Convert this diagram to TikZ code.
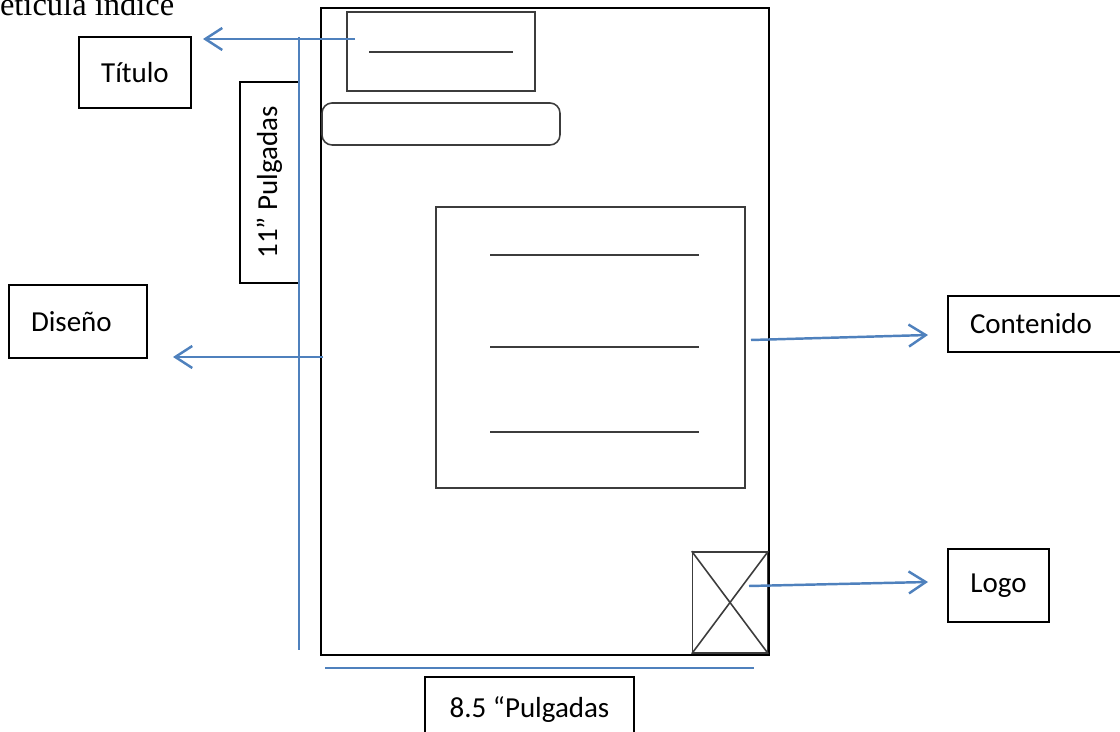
\documentclass[tikz,border=0pt]{standalone}
\usepackage{fontspec}
\setmainfont{Carlito}
\newfontfamily\tnr{Liberation Serif}
\usetikzlibrary{arrows.meta}
\definecolor{azul}{RGB}{79,129,189}
\definecolor{gris}{RGB}{60,60,60}
\tikzset{
caja/.style={draw, line width=1.1pt, inner sep=0pt, font=\fontsize{16.5}{20}\selectfont},
bloque/.style={draw=gris, line width=0.9pt, inner sep=0pt},
raya/.style={gris, line width=0.9pt},
cota/.style={draw=azul, line width=1.4pt},
flecha/.style={cota, -{Straight Barb[length=0.34cm, width=0.44cm, line width=1.4pt]}},
}

\begin{document}
\begin{tikzpicture}[x=0.02cm, y=-0.02cm]
    \useasboundingbox (0,0) rectangle (1120,732);
    \clip (0,0) rectangle (1120,732);

    \node[anchor=base west, inner sep=0pt, font=\tnr\fontsize{18.5}{22}\selectfont] (encabezado) at (-22,16) {Retícula índice};

    % hoja
    \node[draw, line width=1.1pt, inner sep=0pt, minimum width=8.96cm, minimum height=12.94cm] (hoja) at (545,331.5) {};
    \node[bloque, minimum width=3.76cm, minimum height=1.58cm] (cabecera) at (441,51.5) {};
    \node[bloque, rounded corners=0.2cm, minimum width=4.76cm, minimum height=0.84cm] (barra) at (441,124) {};
    \node[bloque, minimum width=6.18cm, minimum height=5.62cm] (cuerpo) at (590.5,347.5) {};
    \node[bloque, minimum width=1.5cm, minimum height=2.02cm] (imagen) at (730,602.5) {};

    \draw[raya] (369,52) -- (513,52);
    \foreach \y in {255,347,432}
        \draw[raya] (490,\y) -- (699,\y);
    \draw[raya] (imagen.north west) -- (imagen.south east) (imagen.north east) -- (imagen.south west);

    % etiquetas
    \node[caja, minimum width=2.24cm, minimum height=1.42cm] (titulo) at (135,72.5) {Título};
    \node[caja, minimum height=1.46cm, text width=1.88cm, inner xsep=0.44cm, align=left] (diseno) at (78,321.5) {Diseño};
    \node[caja, minimum height=1.12cm, text width=2.76cm, inner xsep=0.44cm, align=left] (contenido) at (1039,324) {Contenido};
    \node[caja, minimum width=2.02cm, minimum height=1.46cm] (logo) at (998.5,585.5) {Logo};
    \node[caja, rotate=90, minimum width=4.02cm, minimum height=1.18cm] (alto) at (269.5,182.5) {11” Pulgadas};
    \node[caja, minimum width=4.18cm, minimum height=1.32cm] (ancho) at (529.5,710) {8.5 “Pulgadas};

    % cotas
    \coordinate (v1) at (299,37);
    \coordinate (v2) at (299,650);
    \coordinate (h1) at (325,668);
    \coordinate (h2) at (754,668);
    \draw[cota] (v1) -- (v2);
    \draw[cota] (h1) -- (h2);

    % flechas
    \coordinate (t0) at (355,39);
    \coordinate (t1) at (203,39);
    \coordinate (d0) at (323,357);
    \coordinate (d1) at (173,357);
    \coordinate (c0) at (751,340);
    \coordinate (c1) at (928,335);
    \coordinate (l0) at (749,586);
    \coordinate (l1) at (928,582);
    \draw[flecha] (t0) -- (t1);
    \draw[flecha] (d0) -- (d1);
    \draw[flecha] (c0) -- (c1);
    \draw[flecha] (l0) -- (l1);

\end{tikzpicture}
\end{document}
